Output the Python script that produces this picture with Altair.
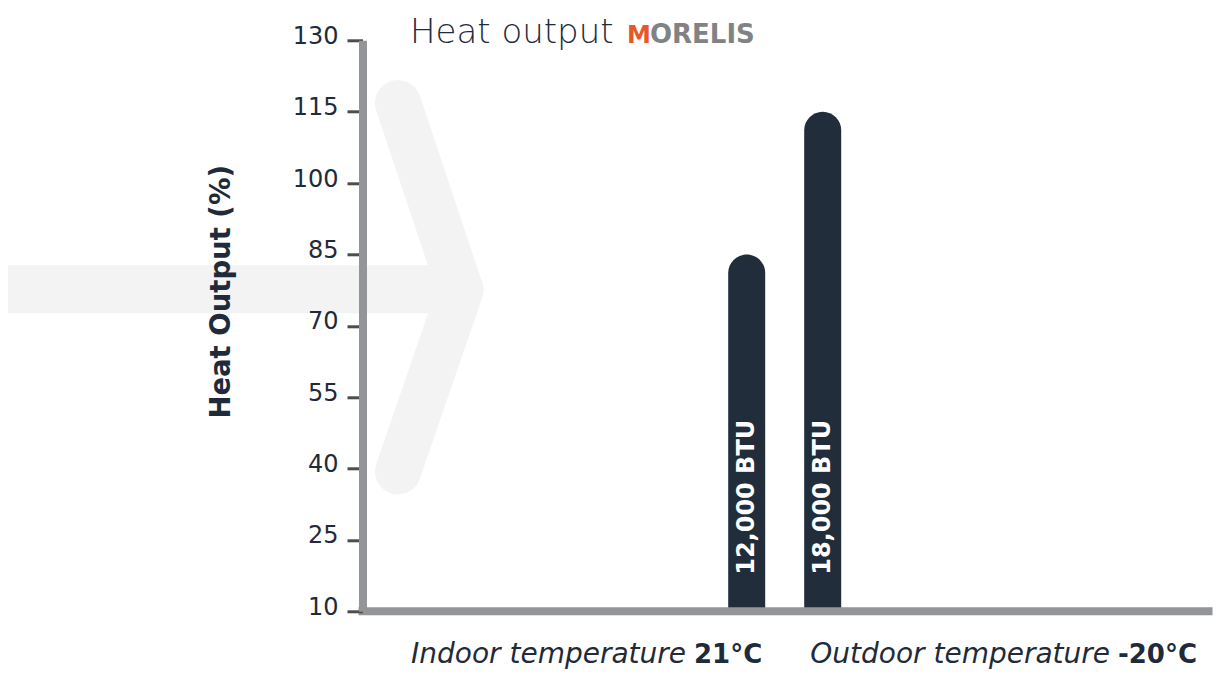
import altair as alt
import pandas as pd

# ---- data ----
categories = ["12,000 BTU", "18,000 BTU"]
heat_output = [85, 115]
y_ticks = [10, 25, 40, 55, 70, 85, 100, 115, 130]
y_domain = [10, 130]

title_main = "Heat output"
brand_first = "M"
brand_rest = "ORELIS"
y_title = "Heat Output (%)"
x_left_text = ["Indoor temperature", "21°C"]
x_right_text = ["Outdoor temperature", "-20°C"]

# decorative background chevron (y in data units)
band_y = [77.7]
chevron_top = [116.8]
chevron_tip = [77.5]
chevron_bottom = [39.4]

# ---- styling ----
W, H = 850, 571
NAVY = "#1f2b3a"
BAR = "#212d3b"
AXIS_GRAY = "#939598"
TICK = "#4d4d4d"
ARROW = "#f3f3f3"
ORANGE = "#e8572a"
BRAND_GRAY = "#808285"
FONT = "DejaVu Sans"

df = pd.DataFrame({"label": categories, "value": heat_output})
one = pd.DataFrame({"a": [0]})

yscale = alt.Scale(domain=y_domain, nice=False, zero=False)
xscale = alt.Scale(domain=categories, range=[346.2, 498.2], paddingInner=0, paddingOuter=0)

band = alt.Chart(pd.DataFrame({"y": band_y})).mark_rule(
    color=ARROW, strokeWidth=48, strokeCap="butt"
).encode(x=alt.value(-360), x2=alt.value(75), y=alt.datum(band_y[0]))

arm_top = alt.Chart(one).mark_rule(color=ARROW, strokeWidth=46, strokeCap="round").encode(
    x=alt.value(35.5), x2=alt.value(98), y=alt.datum(chevron_top[0]), y2=alt.datum(chevron_tip[0])
)
arm_bot = alt.Chart(one).mark_rule(color=ARROW, strokeWidth=46, strokeCap="round").encode(
    x=alt.value(35.5), x2=alt.value(98), y=alt.datum(chevron_bottom[0]), y2=alt.datum(chevron_tip[0])
)

bars = alt.Chart(df).mark_bar(
    size=37, cornerRadiusTopLeft=18.5, cornerRadiusTopRight=18.5, color=BAR
).encode(
    x=alt.X("label:N", scale=xscale, axis=None, sort=categories),
    y=alt.Y(
        "value:Q",
        scale=yscale,
        axis=alt.Axis(
            values=y_ticks,
            title=y_title,
            grid=False,
            domainColor=AXIS_GRAY,
            domainWidth=8,
            tickColor=TICK,
            tickWidth=3,
            tickSize=15.5,
            labelPadding=9,
            labelFont=FONT,
            labelFontSize=24,
            labelColor=NAVY,
            labelBaseline="alphabetic",
            labelOffset=3,
            labelFlush=False,
            labelOverlap=False,
            titleFont=FONT,
            titleFontSize=27.5,
            titleFontWeight="bold",
            titleColor=NAVY,
            titleAngle=270,
            titleX=-133,
            titleY=251,
            titleAlign="center",
            titleBaseline="alphabetic",
            zindex=1,
        ),
    ),
    y2=alt.datum(10),
)

bar_labels = alt.Chart(df).mark_text(
    angle=270, align="left", baseline="middle", dx=36.5,
    color="white", font=FONT, fontSize=24, fontWeight="bold"
).encode(
    x=alt.X("label:N", scale=xscale, axis=None, sort=categories),
    y=alt.datum(10),
    text="label:N",
)

baseline = alt.Chart(one).mark_rule(color=AXIS_GRAY, strokeWidth=8).encode(
    x=alt.value(-4), x2=alt.value(W), y=alt.datum(10)
)

def txt(s, x, y, size, weight="normal", style="normal", align="left", color=NAVY):
    return alt.Chart(pd.DataFrame({"t": [s]})).mark_text(
        align=align, baseline="alphabetic", font=FONT, fontSize=size,
        fontWeight=weight, fontStyle=style, color=color
    ).encode(text="t:N", x=alt.value(x), y=alt.value(y))

title1 = txt(title_main, 47.5, 2.7, 34, weight=200)
brand1 = txt(brand_first, 264.5, 2.7, 24, weight="bold", color=ORANGE)
brand2 = txt(brand_rest, 287.5, 2.7, 26, weight="bold", color=BRAND_GRAY)

bl1 = txt(x_left_text[0], 323.5, 622.7, 28, style="italic", align="right")
bl2 = txt(x_left_text[1], 331.5, 622.7, 26, weight="bold")
br1 = txt(x_right_text[0], 747.5, 622.7, 28, style="italic", align="right")
br2 = txt(x_right_text[1], 834.5, 622.7, 26, weight="bold", align="right")

chart = alt.layer(
    band, arm_top, arm_bot, bars, bar_labels, baseline,
    title1, brand1, brand2, bl1, bl2, br1, br2
).properties(
    width=W, height=H,
    autosize=alt.AutoSizeParams(type="none"),
    padding={"left": 354.5, "top": 32.3, "right": 5, "bottom": 58},
    background="white",
).configure_view(stroke=None)

chart.save("out.html", embed_options={"renderer": "svg", "actions": False})
